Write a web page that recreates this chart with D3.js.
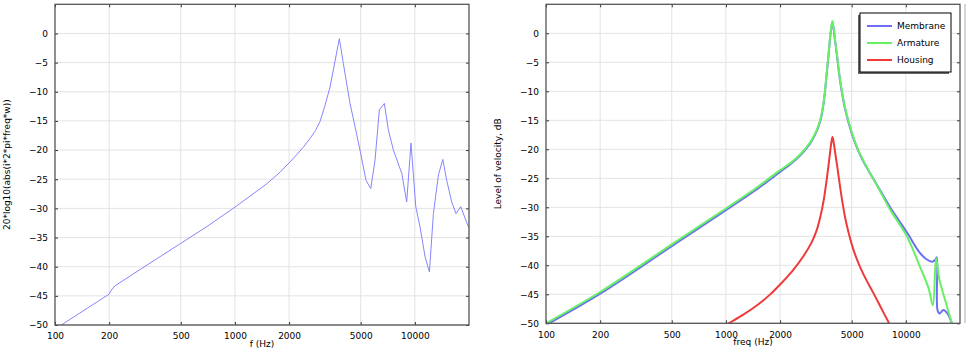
<!DOCTYPE html>
<html>
<head>
<meta charset="utf-8">
<script src="https://cdn.jsdelivr.net/npm/d3@7"></script>
<style>
  body { margin: 0; background: #fff; }
  svg { display: block; font-family: 'DejaVu Sans', sans-serif; }
</style>
</head>
<body>
<div id="stage"></div>
<script>
// left panel: 20*log10(abs(i*2*pi*freq*w))
const leftFreq = [100, 200, 207, 215, 300, 500, 700, 1000, 1200, 1500, 1782, 2000, 2205, 2400, 2614,
    2800, 2972, 3150, 3378, 3805, 4008, 4363, 4654, 4955, 5354, 5690, 6010, 6350, 6770, 7130, 7600,
    8460, 9010, 9520, 10120, 10690, 11400, 12050, 12680, 13520, 14300, 15040, 16030, 16940, 17990,
    19850, 20000];
const leftVal = [-50.7, -44.7, -43.9, -43.3, -40.4, -36.0, -33.1, -29.8, -28.0, -25.8, -23.8, -22.2,
    -20.8, -19.5, -18.0, -16.7, -15.1, -12.6, -9.2, -0.9, -5.2, -12.0, -16.0, -20.0, -25.2, -26.6,
    -21.7, -13.1, -12.0, -16.6, -20.0, -24.0, -28.9, -18.8, -29.7, -33.2, -38.3, -40.9, -30.9, -24.3,
    -21.6, -25.2, -28.9, -30.9, -29.7, -33.2, -33.3];

// right panel: level of velocity
const membraneFreq = [100, 200, 500, 1000, 1500, 2000, 2300, 2600, 2940, 3150, 3340, 3490, 3640,
    3720, 3800, 3860, 3910, 3960, 4040, 4140, 4320, 4600, 5010, 5400, 5810, 6900, 8180, 10130, 12000,
    13090, 13950, 14550, 14860, 14990, 15380, 16180, 17030, 18020];
const membraneVal = [-50.3, -44.9, -36.7, -30.5, -26.8, -23.9, -22.5, -21.0, -19.0, -17.3, -15.2,
    -12.1, -6.7, -3.7, -0.6, 1.1, 1.9, 1.0, -1.2, -3.8, -8.4, -13.1, -17.3, -20.0, -22.1, -26.1,
    -30.0, -34.3, -37.9, -39.0, -39.4, -39.1, -38.6, -47.7, -48.3, -47.7, -48.3, -50.0];
const armatureFreq = [100, 200, 500, 1000, 1500, 2000, 2300, 2600, 2940, 3150, 3340, 3490, 3640,
    3720, 3800, 3860, 3910, 3960, 4040, 4140, 4320, 4600, 5010, 5400, 5810, 6900, 8180, 10130, 12000,
    13360, 14130, 14730, 15380, 16530, 18020];
const armatureVal = [-50.0, -44.6, -36.4, -30.2, -26.5, -23.6, -22.3, -20.8, -18.8, -17.1, -15.0,
    -11.9, -6.5, -3.5, -0.4, 1.3, 2.1, 1.2, -1.0, -3.6, -8.2, -12.9, -17.1, -19.9, -22.0, -26.2,
    -30.4, -35.0, -40.3, -43.9, -46.9, -38.8, -42.5, -46.0, -50.0];
const housingFreq = [1000, 1035, 1250, 1490, 1750, 2000, 2350, 2700, 3000, 3200, 3350, 3490, 3640,
    3720, 3800, 3860, 3910, 3960, 4040, 4140, 4410, 4600, 4800, 5150, 5570, 6050, 6610, 7300, 8070];
const housingVal = [-50.3, -50.0, -48.5, -46.9, -45.1, -43.3, -40.9, -38.4, -36.0, -33.9, -31.6,
    -28.9, -25.0, -22.7, -20.3, -18.7, -17.9, -18.6, -20.4, -22.6, -28.5, -31.8, -34.3, -37.6,
    -40.3, -42.6, -44.8, -47.4, -50.0];

const xTicks = [100, 200, 500, 1000, 2000, 5000, 10000];
const yTicks = d3.range(-50, 1, 5);

const width = 980, height = 355;
const svg = d3.select('#stage').append('svg')
    .attr('width', width).attr('height', height);

function panel(id, x0, x1, y0, y1, xTitle, yTitle, yTitleX, series, lineW) {
    const x = d3.scaleLog().domain([100, 20000]).range([x0, x1]);
    const y = d3.scaleLinear().domain([-50, 5]).range([y1, y0]);
    const g = svg.append('g');

    // grid
    g.append('g').selectAll('line').data(xTicks.slice(1)).join('line')
        .attr('x1', d => x(d)).attr('x2', d => x(d)).attr('y1', y0).attr('y2', y1)
        .attr('stroke', '#e3e3e3').attr('stroke-width', 1);
    g.append('g').selectAll('line').data(yTicks).join('line')
        .attr('x1', x0).attr('x2', x1).attr('y1', d => y(d)).attr('y2', d => y(d))
        .attr('stroke', '#e3e3e3').attr('stroke-width', 1);

    // data
    g.append('clipPath').attr('id', id).append('rect')
        .attr('x', x0).attr('y', y0).attr('width', x1 - x0).attr('height', y1 - y0);
    series.forEach(s => {
        const pts = s.f.map((f, i) => [f, s.v[i]]);
        g.append('path').datum(pts)
            .attr('clip-path', `url(#${id})`)
            .attr('fill', 'none').attr('stroke', s.color).attr('stroke-width', lineW)
            .attr('stroke-linejoin', 'round')
            .attr('d', d3.line().x(d => x(d[0])).y(d => y(d[1])).curve(s.curve));
    });

    // axes with inward ticks
    g.append('g').attr('transform', `translate(0,${y1})`)
        .call(d3.axisBottom(x).tickValues(xTicks).tickFormat(d3.format('d')).tickSize(-3).tickPadding(8))
        .call(a => a.select('.domain').remove());
    g.append('g').attr('transform', `translate(0,${y0})`)
        .call(d3.axisTop(x).tickValues(xTicks).tickFormat('').tickSize(-3))
        .call(a => a.select('.domain').remove());
    g.append('g').attr('transform', `translate(${x0},0)`)
        .call(d3.axisLeft(y).tickValues(yTicks).tickFormat(d3.format('d')).tickSize(-3).tickPadding(7))
        .call(a => a.select('.domain').remove());
    g.append('g').attr('transform', `translate(${x1},0)`)
        .call(d3.axisRight(y).tickValues(yTicks).tickFormat('').tickSize(-3))
        .call(a => a.select('.domain').remove());
    g.selectAll('.tick line').attr('stroke', '#333');
    g.selectAll('.tick text').attr('font-size', 9).attr('font-family', 'DejaVu Sans').attr('fill', '#000');

    // frame
    g.append('rect').attr('x', x0).attr('y', y0).attr('width', x1 - x0).attr('height', y1 - y0)
        .attr('fill', 'none').attr('stroke', '#555').attr('stroke-width', 1.3);

    g.append('text').attr('x', (x0 + x1) / 2).attr('y', y1 + 22)
        .attr('text-anchor', 'middle').attr('font-size', 9).text(xTitle);
    g.append('text')
        .attr('transform', `translate(${yTitleX},${(y0 + y1) / 2}) rotate(-90)`)
        .attr('text-anchor', 'middle').attr('dy', '0.35em').attr('font-size', 9).text(yTitle);
    return {x, y};
}

panel('clipL', 55, 469, 4.3, 325, 'f (Hz)', '20*log10(abs(i*2*pi*freq*w))', 7,
    [{f: leftFreq, v: leftVal, color: '#8585ff', curve: d3.curveLinear}], 1);

const legendItems = [
    {name: 'Membrane', color: '#6e6ef2'},
    {name: 'Armature', color: '#66f066'},
    {name: 'Housing', color: '#ee3a3a'}
];

panel('clipR', 546, 960, 4.3, 323.3, 'freq (Hz)', 'Level of velocity, dB', 498, [
    {f: membraneFreq, v: membraneVal, color: legendItems[0].color, curve: d3.curveCatmullRom.alpha(0.5)},
    {f: armatureFreq, v: armatureVal, color: legendItems[1].color, curve: d3.curveCatmullRom.alpha(0.5)},
    {f: housingFreq, v: housingVal, color: legendItems[2].color, curve: d3.curveCatmullRom.alpha(0.5)}
], 2);

// side bar at right
svg.append('line').attr('x1', 965).attr('x2', 965).attr('y1', 4).attr('y2', 323)
    .attr('stroke', '#c8c8c8').attr('stroke-width', 1.5);

// legend
const lg = svg.append('g').attr('transform', 'translate(860,13)');
lg.append('rect').attr('x', -2).attr('y', 2).attr('width', 91).attr('height', 59).attr('fill', '#666');
lg.append('rect').attr('x', 0).attr('y', 0).attr('width', 91).attr('height', 59)
    .attr('fill', '#fff').attr('stroke', '#000').attr('stroke-width', 1);
legendItems.forEach((d, i) => {
    const yy = 13 + i * 17;
    lg.append('line').attr('x1', 7).attr('x2', 32).attr('y1', yy).attr('y2', yy)
        .attr('stroke', d.color).attr('stroke-width', 2);
    lg.append('text').attr('x', 37).attr('y', yy).attr('dy', '0.35em')
        .attr('font-size', 9).text(d.name);
});
</script>
</body>
</html>
